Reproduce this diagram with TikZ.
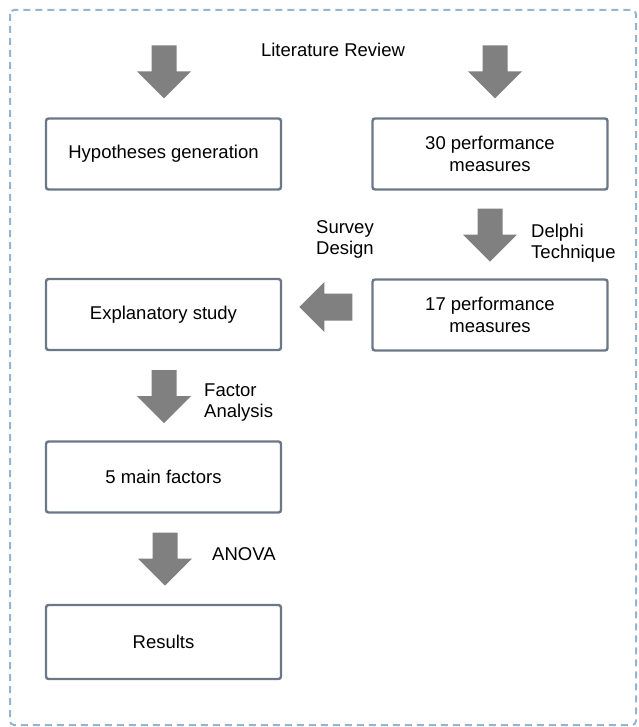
\documentclass[tikz,border=0pt]{standalone}
\usepackage{fontspec}
\setmainfont{Liberation Sans}
\usetikzlibrary{calc}
\definecolor{boxline}{RGB}{108,120,136}
\definecolor{arrowgray}{RGB}{128,128,128}
\definecolor{frameblue}{RGB}{150,180,210}
\tikzset{
  box/.style={draw=boxline, line width=2.4pt, rounded corners=2.5pt, fill=white,
    minimum width=235pt, minimum height=71pt, align=center, inner sep=0pt,
    font=\fontsize{18.5}{22}\selectfont},
  lbl/.style={align=left, anchor=west, inner sep=0pt, font=\fontsize{18.5}{21}\selectfont},
  darrow/.pic={\fill[arrowgray] (-12.5,0) -- (12.5,0) -- (12.5,26) -- (27,26) -- (0,53) -- (-27,26) -- (-12.5,26) -- cycle;},
  larrow/.pic={\fill[arrowgray] (0,-13.5) -- (0,13.5) -- (-28,13.5) -- (-28,25) -- (-53,0) -- (-28,-25) -- (-28,-13.5) -- cycle;}
}
\begin{document}
\begin{tikzpicture}[x=1pt,y=-1pt]
\useasboundingbox (0,0) rectangle (638,727);
\draw[frameblue, line width=2pt, dash pattern=on 7pt off 5pt, rounded corners=4pt] (10,10) rectangle (636,725);

\node (lit) [lbl, anchor=center] at (333,50) {Literature Review};

\node (hyp) [box] at (163.5,154) {Hypotheses generation};
\node (m30) [box] at (490,154) {30 performance\\measures};
\node (expl) [box] at (163.5,314.5) {Explanatory study};
\node (m17) [box] at (490,315) {17 performance\\measures};
\node (fac) [box] at (163.5,477) {5 main factors};
\node (res) [box, minimum height=74pt] at (163.5,642) {Results};

\coordinate (a1) at ($(hyp.north)+(0.5,-72)$);
\coordinate (a2) at ($(m30.north)+(5,-72)$);
\coordinate (a3) at ($(m30.south)+(0,18)$);
\coordinate (a4) at ($(m17.west)+(-19,-8)$);
\coordinate (a5) at ($(expl.south)+(0.5,19)$);
\coordinate (a6) at ($(fac.south)+(1.5,19)$);

\pic at (a1) {darrow};
\pic at (a2) {darrow};
\pic at (a3) {darrow};
\pic at (a4) {larrow};
\pic at (a5) {darrow};
\pic at (a6) {darrow};

\node (survey) [lbl] at (316,239) {Survey\\Design};
\node (delphi) [lbl] at (531,243) {Delphi\\Technique};
\node (factor) [lbl] at (204,403) {Factor\\Analysis};
\node (anova) [lbl] at (212,554) {ANOVA};
\end{tikzpicture}
\end{document}
